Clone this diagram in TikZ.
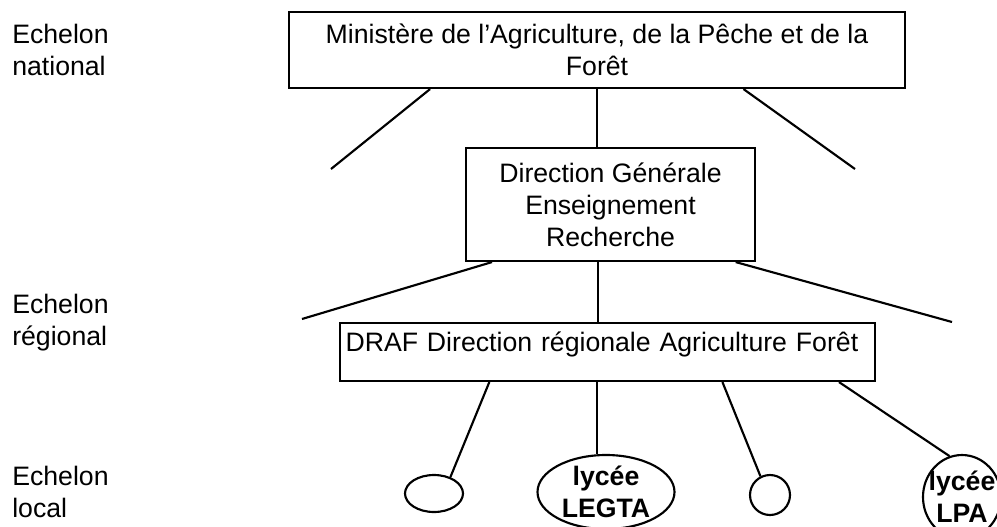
\documentclass[tikz,border=0pt]{standalone}
\usepackage{fontspec}
\setmainfont{Liberation Sans}
\usetikzlibrary{calc, shapes.geometric, backgrounds}

\begin{document}
\begin{tikzpicture}[
    x=0.75pt, y=-0.75pt,
    background rectangle/.style={fill=white},
    inner frame sep=0pt,
    show background rectangle,
    every node/.style={font=\fontsize{20}{24}\selectfont},
    box/.style={draw, line width=1.6pt, inner sep=0pt, align=center},
    lyc/.style={draw, ellipse, line width=1.6pt, inner sep=0pt},
    lyctext/.style={align=center, inner sep=0pt, font=\fontsize{20}{24}\selectfont\bfseries},
    level/.style={anchor=base west, align=left, inner sep=0pt},
    link/.style={line width=1.6pt}]
    \useasboundingbox (0,0) rectangle (997,526);

    % Define the levels on the left (base = last line)
    \node[level] (lvN) at (12,75) {Echelon\\national};
    \node[level] (lvR) at (12,345) {Echelon\\régional};
    \node[level] (lvL) at (12,517) {Echelon\\local};

    % Define the three boxes
    \node[box, minimum width=462pt, minimum height=57pt] (mapf) at (597,50)
      {Ministère de l’Agriculture, de la Pêche et de la\\Forêt};
    \node[box, minimum width=216.75pt, minimum height=84.75pt] (dger) at (610.5,204.5)
      {Direction Générale\\Enseignement\\Recherche};
    \node[box, minimum width=401.25pt, minimum height=43.5pt, text width=393pt,
      align=left, inner xsep=4pt, text height=14pt, text depth=15.5pt] (draf) at (607.5,352)
      {DRAF Direction régionale Agriculture Forêt};

    % Define the schools
    \node[lyc, minimum width=43.5pt, minimum height=27.75pt] (etab1) at (434,493.5) {};
    \node[lyc, minimum width=102.75pt, minimum height=55.5pt,
      label={[lyctext]center:lycée\\LEGTA}] (legta) at (606,492) {};
    \node[lyc, minimum width=30pt, minimum height=30pt] (etab3) at (770,495) {};
    \node[lyc, minimum width=58.5pt, minimum height=63pt,
      label={[lyctext]center:lycée\\LPA}] (lpa) at (962,497) {};

    % Free ends of the open branches
    \coordinate (nL) at (331,169);
    \coordinate (nR) at (855,169);
    \coordinate (rL) at (302,319);
    \coordinate (rR) at (952,322);

    % Draw the branches
    \draw[link] ($(mapf.south west)!0.23!(mapf.south east)$) -- (nL);
    \draw[link] (mapf.south) -- (mapf.south |- dger.north);
    \draw[link] ($(mapf.south west)!0.737!(mapf.south east)$) -- (nR);

    \draw[link] ($(dger.south west)!0.093!(dger.south east)$) -- (rL);
    \draw[link] ($(dger.south west)!0.457!(dger.south east)$) coordinate (dm) -- (dm |- draf.north);
    \draw[link] ($(dger.south west)!0.93!(dger.south east)$) -- (rR);

    \draw[link] ($(draf.south west)!0.28!(draf.south east)$) -- (etab1.45);
    \draw[link] ($(draf.south west)!0.48!(draf.south east)$) coordinate (dl) -- (dl |- legta.north);
    \draw[link] ($(draf.south west)!0.714!(draf.south east)$) -- (etab3.117);
    \draw[link] ($(draf.south west)!0.931!(draf.south east)$) -- (lpa.107);
  \end{tikzpicture}
\end{document}
